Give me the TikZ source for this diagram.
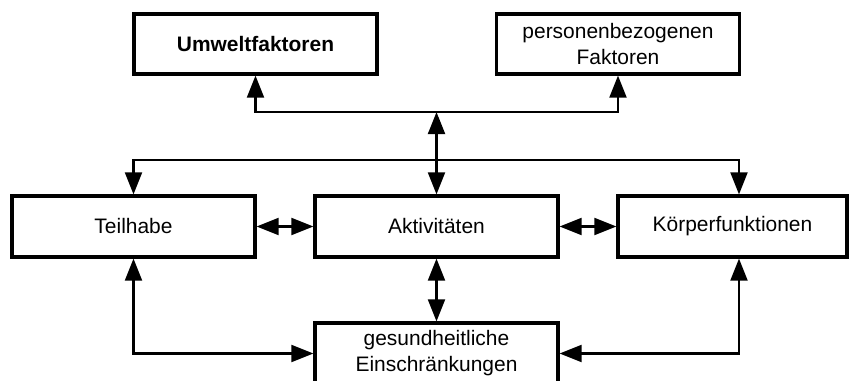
\documentclass[tikz,border=0pt]{standalone}
\usepackage{fontspec}
\setmainfont{Liberation Sans}
\usetikzlibrary{arrows.meta}

\begin{document}
\begin{tikzpicture}[x=0.025cm, y=-0.025cm,
		box/.style={draw, line width=2.2pt, align=center, inner sep=0pt,
			minimum width=6.075cm, minimum height=1.525cm,
			font=\fontsize{14.9}{18.5}\selectfont},
		link/.style={line width=1.8pt,
			{Triangle[length=0.55cm,width=0.42cm]}-{Triangle[length=0.55cm,width=0.42cm]}}]
	\useasboundingbox (0,0) rectangle (849,381);
	\clip (0,0) rectangle (849,381);

	% obere Reihe
	\node[box, minimum height=1.5cm] (umwelt) at (255.5,44) {\bfseries Umweltfaktoren};
	\node[box, minimum height=1.5cm] (person) at (618,44) {personenbezogenen\\Faktoren};

	% mittlere Reihe
	\node[box] (teil) at (133.5,226.5) {Teilhabe};
	\node[box] (akt) at (436.5,226.5) {Aktivitäten};
	\node[box, minimum width=5.725cm] (koerper) at (732.5,226.5) {Körperfunktionen};

	% untere Reihe
	\node[box] (gesund) at (436.5,353.5) {gesundheitliche\\Einschränkungen};

	\coordinate (hub) at (436.5,112);
	\coordinate (kk) at (739,160);

	\draw[link] (umwelt.south) |- (hub) -| (person.south);
	\draw[link] (hub) -- (akt.north);
	\draw[link] (teil.north) |- (kk) -- (kk |- koerper.north);

	\draw[link] (teil.east) -- (akt.west);
	\draw[link] (akt.east) -- (koerper.west);

	\draw[link] (akt.south) -- (gesund.north);
	\draw[link] (teil.south) |- (gesund.west);
	\draw[link] (kk |- koerper.south) |- (gesund.east);
\end{tikzpicture}
\end{document}
